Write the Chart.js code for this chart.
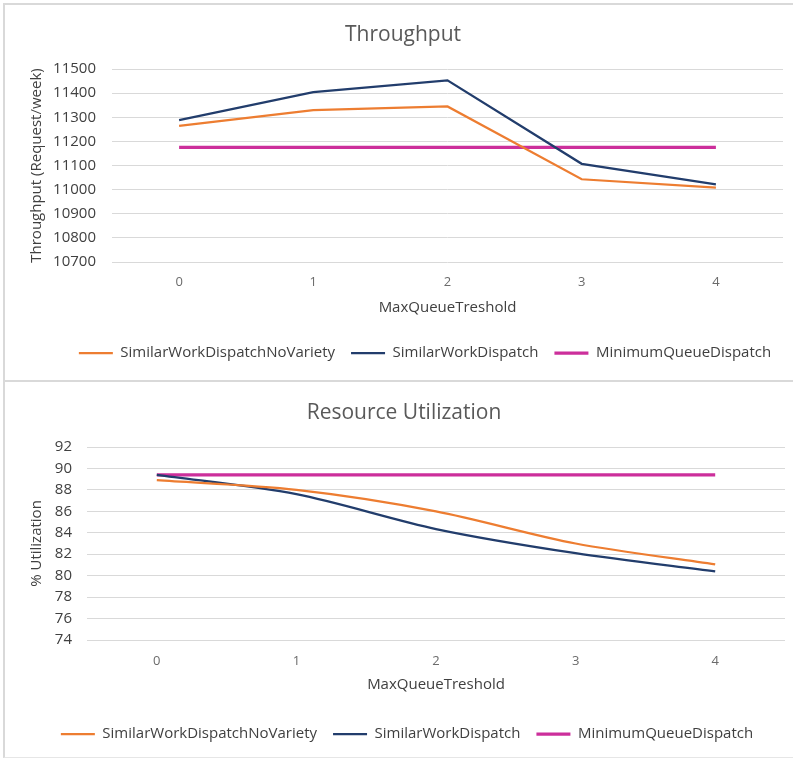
<!DOCTYPE html>
<html>
<head>
<meta charset="utf-8">
<script src="https://cdn.jsdelivr.net/npm/chart.js@4/dist/chart.umd.min.js"></script>
<style>
  html, body { margin: 0; padding: 0; background: #ffffff; overflow: hidden; }
  body { width: 793px; height: 758px; position: relative; }
  .panel { position: absolute; left: 3px; border-left: 2px solid #d9d9d9; background: #fff; }
  #panelTop { top: 3px; border-top: 2px solid #d9d9d9; border-bottom: 2px solid #d9d9d9; }
  #panelBottom { top: 382px; border-bottom: 1px solid #e6e6e6; }
  canvas { display: block; }
</style>
</head>
<body>
<div class="panel" id="panelTop"><canvas id="throughputChart" width="788" height="375"></canvas></div>
<div class="panel" id="panelBottom"><canvas id="utilChart" width="788" height="375"></canvas></div>
<script>
// Queue threshold settings on the x axis
const thresholds = ['0', '1', '2', '3', '4'];

// Throughput, requests per week
const throughputNoVariety = [11264, 11330, 11345, 11043, 11008];
const throughputSimilar   = [11288, 11404, 11453, 11107, 11022];
const throughputMinQueue  = [11175, 11175, 11175, 11175, 11175];
const throughputTicks = { min: 10700, max: 11500, step: 100 };

// Resource utilization, percent
const utilNoVariety = [88.9, 88.0, 86.0, 83.0, 81.05];
const utilSimilar   = [89.4, 87.6, 84.35, 82.1, 80.4];
const utilMinQueue  = [89.4, 89.4, 89.4, 89.4, 89.4];
const utilTicks = { min: 74, max: 92, step: 2 };

const seriesNames = ['SimilarWorkDispatchNoVariety', 'SimilarWorkDispatch', 'MinimumQueueDispatch'];
const ORANGE = '#ED7D31';
const NAVY = '#223D6C';
const MAGENTA = '#CC2F9B';

Chart.defaults.font.family = '"Open Sans", sans-serif';
Chart.defaults.animation = false;

// nudges the legend row sideways by a few pixels
const shiftLegend = {
  id: 'shiftLegend',
  afterLayout(chart, args, opts) {
    const dx = opts && opts.dx ? opts.dx : 0;
    if (chart.legend && dx) {
      chart.legend.left += dx;
      chart.legend.right += dx;
    }
  }
};

function makeDatasets(a, b, c, tension) {
  return [
    { label: seriesNames[0], data: a, borderColor: ORANGE, backgroundColor: ORANGE, borderWidth: 2.25, pointRadius: 0, tension: tension },
    { label: seriesNames[1], data: b, borderColor: NAVY, backgroundColor: NAVY, borderWidth: 2.25, pointRadius: 0, tension: tension },
    { label: seriesNames[2], data: c, borderColor: MAGENTA, backgroundColor: MAGENTA, borderWidth: 3.25, pointRadius: 0, tension: 0 }
  ];
}

function makeOptions(cfg) {
  return {
    responsive: false,
    layout: { padding: { left: 18, right: cfg.padRight, top: 0, bottom: cfg.padBottom } },
    plugins: {
      title: {
        display: true, text: cfg.title, color: '#595959',
        font: { size: 21, weight: 'normal' },
        padding: { top: cfg.titleTop, bottom: cfg.titleBottom }
      },
      legend: {
        position: 'bottom',
        labels: {
          usePointStyle: true, pointStyle: 'line', pointStyleWidth: 34,
          color: '#404040', font: { size: 15 }, padding: 16
        }
      },
      tooltip: { enabled: false },
      shiftLegend: { dx: cfg.legendShift }
    },
    scales: {
      x: {
        type: 'category', offset: true,
        grid: { display: false, drawTicks: false }, border: { display: false },
        ticks: { color: '#6b6b6b', font: { size: 13 }, padding: cfg.xTickPad },
        title: { display: true, text: 'MaxQueueTreshold', color: '#404040', font: { size: 15 }, padding: { top: 0, bottom: cfg.xTitleBottom } },
        afterFit(scale) { scale.height = cfg.xHeight; }
      },
      y: {
        min: cfg.ticks.min, max: cfg.ticks.max,
        grid: { color: '#d9d9d9', lineWidth: 1, drawTicks: false },
        border: { display: false },
        ticks: {
          stepSize: cfg.ticks.step, color: '#404040', font: { size: 15 }, padding: cfg.yTickPad,
          callback: (value) => String(value)
        },
        title: { display: true, text: cfg.yTitle, color: '#404040', font: { size: 15 }, padding: { top: 5, bottom: 0 } },
        afterFit(scale) { scale.width = cfg.yWidth; }
      }
    }
  };
}

new Chart(document.getElementById('throughputChart'), {
  type: 'line',
  data: { labels: thresholds, datasets: makeDatasets(throughputNoVariety, throughputSimilar, throughputMinQueue, 0) },
  options: makeOptions({
    title: 'Throughput', yTitle: 'Throughput (Request/week)', ticks: throughputTicks,
    padRight: 10, padBottom: 9.5, titleTop: 17.9, titleBottom: 20.9,
    xTickPad: 12, xTitleBottom: 12.5, xHeight: 67.5, yWidth: 89, yTickPad: 16,
    legendShift: 22
  }),
  plugins: [shiftLegend]
});

new Chart(document.getElementById('utilChart'), {
  type: 'line',
  data: { labels: thresholds, datasets: makeDatasets(utilNoVariety, utilSimilar, utilMinQueue, 0.3) },
  options: makeOptions({
    title: 'Resource Utilization', yTitle: '% Utilization', ticks: utilTicks,
    padRight: 8, padBottom: 5.5, titleTop: 18.4, titleBottom: 21.4,
    xTickPad: 13, xTitleBottom: 16.5, xHeight: 70.5, yWidth: 64, yTickPad: 15,
    legendShift: 3
  }),
  plugins: [shiftLegend]
});
</script>
</body>
</html>
